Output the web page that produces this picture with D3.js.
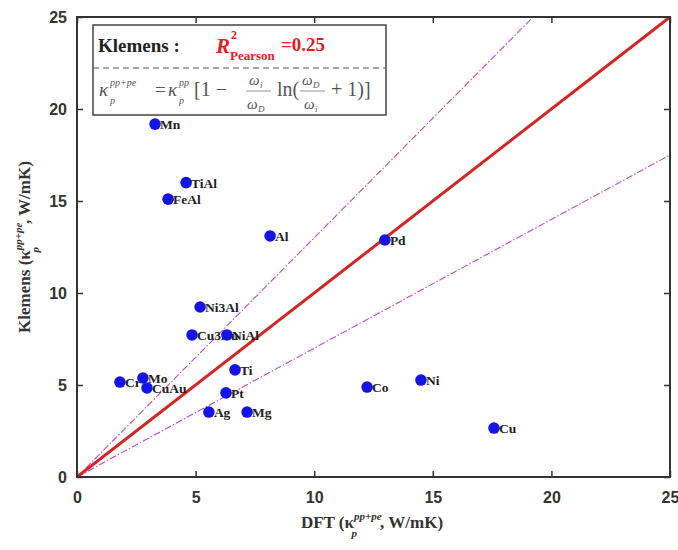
<!DOCTYPE html>
<html>
<head>
<meta charset="utf-8">
<script src="https://cdn.jsdelivr.net/npm/d3@7"></script>
<style>
  body { margin: 0; background: #fff; }
  svg { display: block; font-family: "Liberation Serif", "DejaVu Serif", serif; }
  .tick text { font-size: 16px; font-weight: bold; fill: #333; }
  .tick line { stroke: #333; stroke-width: 1.5; }
  .lbl { font-size: 13.5px; font-weight: bold; fill: #222; }
</style>
</head>
<body>
<div class="chart"></div>
<script>
  //Data
  var materials = ['Mn','TiAl','FeAl','Al','Pd','Ni3Al','Cu3Au','NiAl','Ti','Cr','Mo','CuAu','Pt','Ag','Mg','Co','Ni','Cu'];
  var dft_vals  = [3.29, 4.60, 3.84, 8.14, 12.98, 5.19, 4.85, 6.32, 6.66, 1.81, 2.78, 2.95, 6.28, 5.56, 7.17, 12.23, 14.50, 17.58];
  var klem_vals = [19.18, 16.0, 15.1, 13.1, 12.88, 9.24, 7.72, 7.72, 5.82, 5.16, 5.38, 4.84, 4.57, 3.53, 3.53, 4.89, 5.27, 2.66];
  var tick_vals = [0, 5, 10, 15, 20, 25];
  var guide_slopes = [1.3, 0.7];

  var width = 678, height = 550;
  var plotL = 77, plotR = 670, plotT = 17, plotB = 477;

  var svg = d3.select('.chart').append('svg').attr('width', width).attr('height', height);

  var x = d3.scaleLinear().domain([0, 25]).range([plotL, plotR]);
  var y = d3.scaleLinear().domain([0, 25]).range([plotB, plotT]);

  svg.append('clipPath').attr('id', 'plotclip')
    .append('rect').attr('x', plotL).attr('y', plotT).attr('width', plotR - plotL).attr('height', plotB - plotT);

  //Axes (ticks point inward, mirrored on top/right)
  var ax_b = svg.append('g').attr('transform', 'translate(0,' + plotB + ')')
    .call(d3.axisBottom(x).tickValues(tick_vals).tickSize(-6).tickPadding(12));
  var ax_l = svg.append('g').attr('transform', 'translate(' + plotL + ',0)')
    .call(d3.axisLeft(y).tickValues(tick_vals).tickSize(-6).tickPadding(10));
  var ax_t = svg.append('g').attr('transform', 'translate(0,' + plotT + ')')
    .call(d3.axisTop(x).tickValues(tick_vals).tickSize(-6).tickFormat(''));
  var ax_r = svg.append('g').attr('transform', 'translate(' + plotR + ',0)')
    .call(d3.axisRight(y).tickValues(tick_vals).tickSize(-6).tickFormat(''));
  [ax_b, ax_l, ax_t, ax_r].forEach(function(a){ a.select('.domain').remove(); });
  ax_b.selectAll('text').attr('dy', '0.9em');

  //Guide lines
  var plot = svg.append('g').attr('clip-path', 'url(#plotclip)');
  guide_slopes.forEach(function(s){
    plot.append('line')
      .attr('x1', x(0)).attr('y1', y(0)).attr('x2', x(25)).attr('y2', y(25 * s))
      .attr('stroke', '#c845c8').attr('stroke-width', 1.1)
      .attr('stroke-dasharray', '7,2,1.5,2');
  });
  plot.append('line')
    .attr('x1', x(0)).attr('y1', y(0)).attr('x2', x(25)).attr('y2', y(25))
    .attr('stroke', '#d42525').attr('stroke-width', 3);

  //Points + labels
  var pts = materials.map(function(m, i){ return { name: m, dft: dft_vals[i], klem: klem_vals[i] }; });
  var g = plot.selectAll('.pt').data(pts).enter().append('g').attr('class', 'pt');
  g.append('circle')
    .attr('cx', function(d){ return x(d.dft); })
    .attr('cy', function(d){ return y(d.klem); })
    .attr('r', 5.8).attr('fill', '#1414e6');
  g.append('text').attr('class', 'lbl')
    .attr('x', function(d){ return x(d.dft) + 5; })
    .attr('y', function(d){ return y(d.klem) + 5; })
    .text(function(d){ return d.name; });

  //Frame
  svg.append('rect').attr('x', plotL).attr('y', plotT).attr('width', plotR - plotL).attr('height', plotB - plotT)
    .attr('fill', 'none').attr('stroke', '#333').attr('stroke-width', 2);

  //Legend box
  var lg = svg.append('g');
  lg.append('rect').attr('x', 93).attr('y', 25).attr('width', 293).attr('height', 90)
    .attr('fill', '#fff').attr('stroke', '#444').attr('stroke-width', 1.5);
  lg.append('line').attr('x1', 93).attr('x2', 386).attr('y1', 68).attr('y2', 68)
    .attr('stroke', '#555').attr('stroke-width', 1).attr('stroke-dasharray', '6,4');
  lg.append('text').attr('x', 98).attr('y', 52)
    .style('font-size', '19px').style('font-weight', 'bold').attr('fill', '#222').text('Klemens :');
  var r2 = lg.append('text').attr('fill', '#e02020').style('font-weight', 'bold');
  r2.append('tspan').attr('x', 216).attr('y', 53).style('font-size', '21px').style('font-style', 'italic').text('R');
  r2.append('tspan').attr('x', 231).attr('y', 39).style('font-size', '12px').text('2');
  r2.append('tspan').attr('x', 230).attr('y', 60).style('font-size', '13px').text('Pearson');
  r2.append('tspan').attr('x', 281).attr('y', 51).style('font-size', '19px').text('=0.25');

  //Formula row
  var f = lg.append('g').attr('fill', '#555');
  var put = function(txt, px, py, size, italic){
    f.append('text').attr('x', px).attr('y', py)
      .style('font-size', (size || 17) + 'px')
      .style('font-style', italic ? 'italic' : 'normal')
      .text(txt);
  };
  put('\u03ba', 99, 96, 19, true);
  put('pp+pe', 110, 86, 10, true);
  put('p', 110, 104, 10, true);
  put('=', 155, 96, 19, false);
  put('\u03ba', 168, 96, 19, true);
  put('pp', 179, 86, 10, true);
  put('p', 179, 104, 10, true);
  put('[1 \u2212', 194, 96, 20, false);
  put('\u03c9', 249, 85, 15, true);
  put('i', 260, 88, 9, true);
  f.append('line').attr('x1', 246).attr('x2', 271).attr('y1', 91).attr('y2', 91).attr('stroke', '#777').attr('stroke-width', 0.8);
  put('\u03c9', 247, 109, 15, true);
  put('D', 258, 112, 9, true);
  put('ln(', 277, 96, 20, false);
  put('\u03c9', 302, 85, 15, true);
  put('D', 313, 88, 9, true);
  f.append('line').attr('x1', 300).attr('x2', 325).attr('y1', 91).attr('y2', 91).attr('stroke', '#777').attr('stroke-width', 0.8);
  put('\u03c9', 304, 109, 15, true);
  put('i', 315, 112, 9, true);
  put('+ 1)]', 331, 96, 20, false);

  //Axis titles
  var xt = svg.append('text').attr('text-anchor', 'middle').attr('x', 372).attr('y', 528)
    .style('font-size', '17px').style('font-weight', 'bold').attr('fill', '#333');
  xt.append('tspan').text('DFT (\u03ba');
  xt.append('tspan').attr('dy', -8).style('font-size', '11px').style('font-style', 'italic').text('pp+pe');
  xt.append('tspan').attr('dx', -30).attr('dy', 17).style('font-size', '11px').style('font-style', 'italic').text('p');
  xt.append('tspan').attr('dx', 23).attr('dy', -9).text(', W/mK)');

  var yt = svg.append('text').attr('text-anchor', 'middle')
    .attr('transform', 'translate(30,' + ((plotT + plotB) / 2) + ') rotate(-90)')
    .style('font-size', '17px').style('font-weight', 'bold').attr('fill', '#333');
  yt.append('tspan').text('Klemens (\u03ba');
  yt.append('tspan').attr('dy', -8).style('font-size', '11px').style('font-style', 'italic').text('pp+pe');
  yt.append('tspan').attr('dx', -30).attr('dy', 17).style('font-size', '11px').style('font-style', 'italic').text('p');
  yt.append('tspan').attr('dx', 23).attr('dy', -9).text(', W/mK)');
</script>
</body>
</html>
